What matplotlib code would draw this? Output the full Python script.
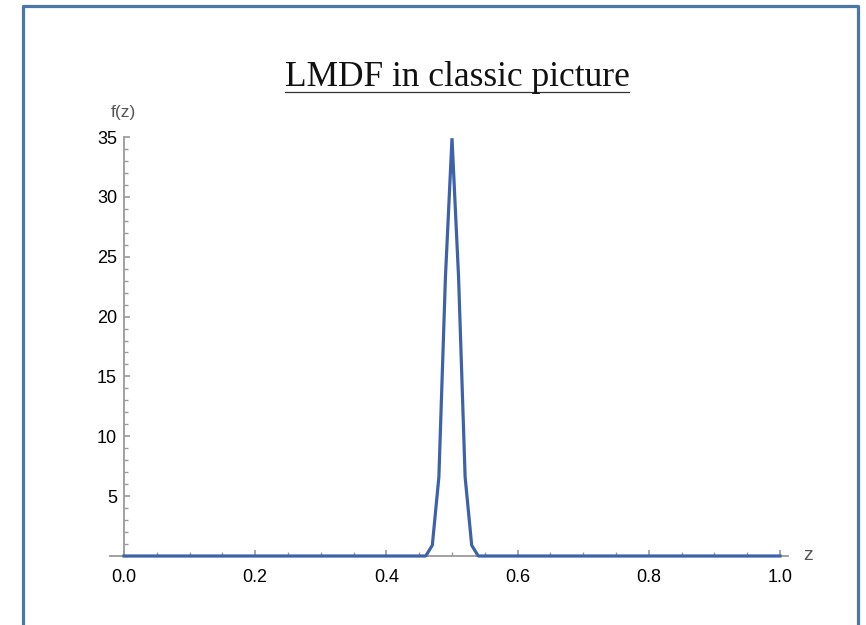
import matplotlib
matplotlib.use("Agg")
import matplotlib.pyplot as plt
from matplotlib.lines import Line2D
from matplotlib.ticker import MultipleLocator, FixedLocator

# data
z = [0.0, 0.46, 0.47, 0.48, 0.49, 0.50, 0.51, 0.52, 0.53, 0.54, 1.0]
fz = [0.0, 0.0, 0.9, 6.6, 23.3, 34.9, 23.3, 6.6, 0.9, 0.0, 0.0]
xticks = [0.0, 0.2, 0.4, 0.6, 0.8, 1.0]
xlabels = ["0.0", "0.2", "0.4", "0.6", "0.8", "1.0"]
yticks = [5, 10, 15, 20, 25, 30, 35]

W, H = 866, 625
fig = plt.figure(figsize=(W / 100, H / 100), dpi=100)
plt.rcParams['font.family'] = ['Liberation Sans', 'DejaVu Sans']

# slide frame
frame_col = '#4a77a8'
fig.add_artist(Line2D([22.5 / W, 22.5 / W, 857.5 / W, 857.5 / W],
                      [0, 1 - 5.5 / H, 1 - 5.5 / H, 0],
                      transform=fig.transFigure, color=frame_col, lw=2.3))

# title, underlined
t = fig.text(457 / W, 1 - 86 / H, "LMDF in classic picture", ha='center',
             va='baseline', fontsize=25.5, family='Liberation Serif', color='#111111')

x0, x1 = 124, 780
y0, y1 = 556, 137
ax = fig.add_axes([x0 / W, 1 - y0 / H, (x1 - x0) / W, (y0 - y1) / H])
ax.set_xlim(0, 1)
ax.set_ylim(0, 35)

axis_col = '#9a9a9a'
for s in ['top', 'right', 'bottom']:
    ax.spines[s].set_visible(False)
ax.spines['left'].set_color(axis_col)
ax.spines['left'].set_linewidth(1.3)

# x axis line runs a bit past both ends
ax.plot([-14 / 656, 1 + 8 / 656], [0, 0], transform=ax.get_yaxis_transform(),
        color=axis_col, lw=1.3, clip_on=False, zorder=2)

ax.plot(z, fz, color='#3d62aa', lw=2.3, solid_joinstyle='bevel', zorder=3, clip_on=False)

ax.xaxis.set_major_locator(FixedLocator(xticks))
ax.set_xticklabels(xlabels)
ax.xaxis.set_minor_locator(MultipleLocator(0.05))
ax.yaxis.set_major_locator(FixedLocator(yticks))
ax.yaxis.set_minor_locator(MultipleLocator(1))

ax.tick_params(axis='both', which='both', direction='in', color=axis_col,
               labelsize=13, labelcolor='#000000')
ax.tick_params(axis='both', which='major', length=4.5, width=1.2)
ax.tick_params(axis='both', which='minor', length=3, width=1.0)
ax.tick_params(axis='x', which='major', pad=9.5)
ax.tick_params(axis='y', which='major', pad=5)

fig.text(123 / W, 1 - 112 / H, "f(z)", ha='center', va='center',
         fontsize=12.5, color='#555555')
fig.text(808 / W, 1 - 556 / H, "z", ha='center', va='center',
         fontsize=14, color='#555555')

fig.canvas.draw()
bb = t.get_window_extent()
fig.add_artist(Line2D([bb.x0 / W, bb.x1 / W], [1 - 91.5 / H, 1 - 91.5 / H],
                      transform=fig.transFigure, color='#333333', lw=0.9))

fig.savefig("out.png", dpi=100)
